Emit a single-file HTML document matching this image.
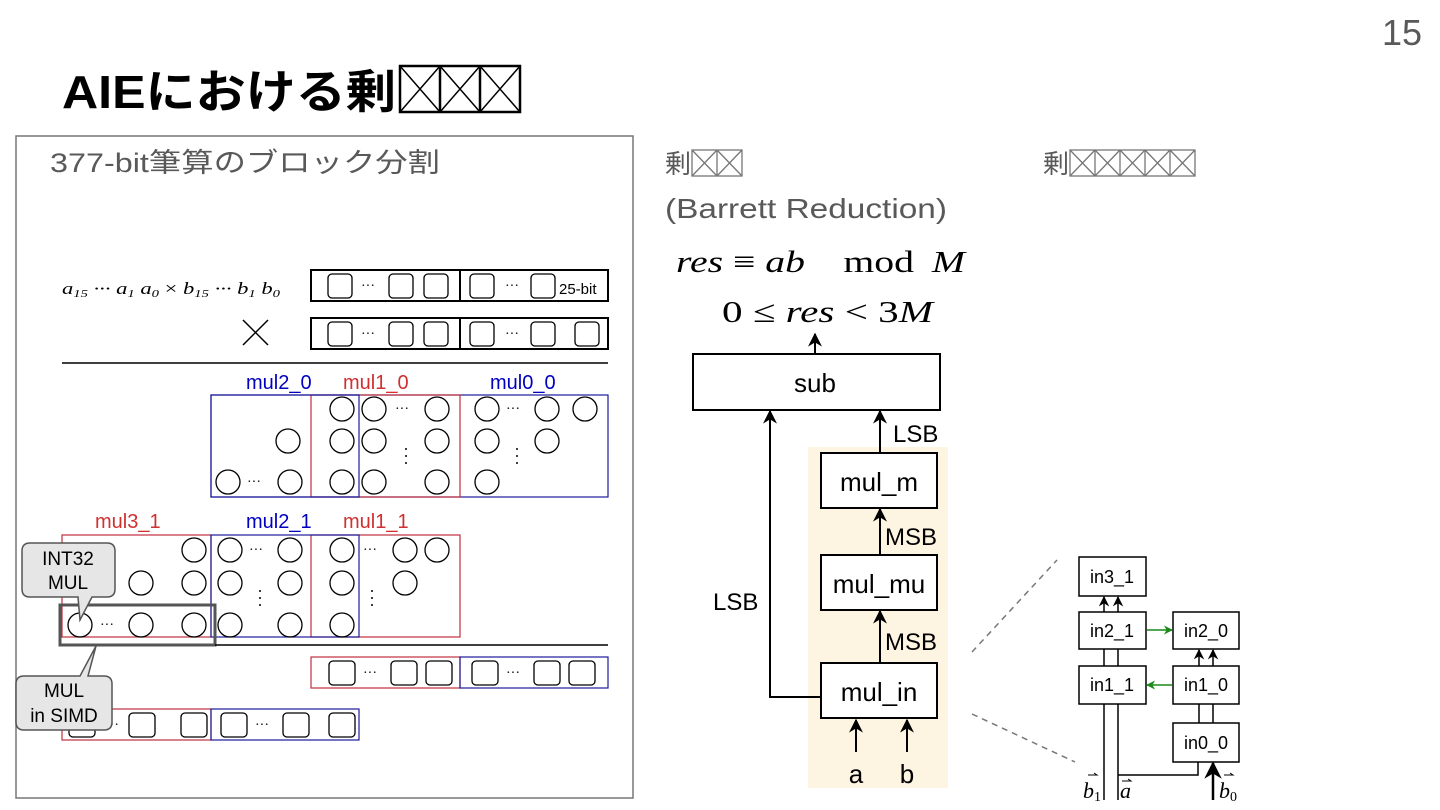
<!DOCTYPE html>
<html><head><meta charset="utf-8"><style>
html,body{margin:0;padding:0;background:#fff;}
svg{display:block;}
.jp{font-family:"Liberation Sans","Noto Sans CJK JP",sans-serif;}
.m{font-family:"Liberation Serif",serif;font-style:italic;}
.r{font-family:"Liberation Serif",serif;}
</style></head><body>
<svg width="1440" height="810" viewBox="0 0 1440 810" xmlns="http://www.w3.org/2000/svg">
<defs>
<marker id="ah" viewBox="0 0 10 10" refX="9" refY="5" markerWidth="7" markerHeight="7" orient="auto-start-reverse"><path d="M0,0 L10,5 L0,10 L3,5 z" fill="#000"/></marker>
<marker id="ag" viewBox="0 0 10 10" refX="9" refY="5" markerWidth="6" markerHeight="6" orient="auto"><path d="M0,0 L10,5 L0,10 L3,5 z" fill="#1a8a1a"/></marker>
</defs>
<text x="1382" y="45" font-size="36" fill="#595959" class="jp">15</text>
<text x="62" y="108" font-size="46" font-weight="bold" class="jp" textLength="334" lengthAdjust="spacingAndGlyphs">AIEにおける剰</text>
<g stroke="#000" stroke-width="2.5" fill="none">
<rect x="400" y="66" width="120" height="46"/>
<line x1="440" y1="66" x2="440" y2="112"/><line x1="480" y1="66" x2="480" y2="112"/>
<path d="M400,66 L440,112 M440,66 L400,112 M440,66 L480,112 M480,66 L440,112 M480,66 L520,112 M520,66 L480,112" stroke-width="1.5"/>
</g>
<rect x="16" y="136" width="617" height="662" fill="none" stroke="#777" stroke-width="1.5"/>
<text x="50" y="172" font-size="27" fill="#595959" class="jp" textLength="390" lengthAdjust="spacingAndGlyphs">377-bit筆算のブロック分割</text>
<text x="62" y="294" font-size="17" class="m" textLength="218" lengthAdjust="spacingAndGlyphs">a<tspan font-size="11" dy="3">15</tspan><tspan dy="-3"> ··· a</tspan><tspan font-size="11" dy="3">1</tspan><tspan dy="-3"> a</tspan><tspan font-size="11" dy="3">0</tspan><tspan dy="-3" font-style="normal"> × </tspan><tspan dy="0">b</tspan><tspan font-size="11" dy="3">15</tspan><tspan dy="-3"> ··· b</tspan><tspan font-size="11" dy="3">1</tspan><tspan dy="-3"> b</tspan><tspan font-size="11" dy="3">0</tspan></text>
<path d="M243,320 L268,345 M268,320 L243,345" stroke="#000" stroke-width="1.5"/>
<g fill="none" stroke="#000" stroke-width="2">
<rect x="311" y="270" width="297" height="31"/><line x1="460" y1="270" x2="460" y2="301"/>
<rect x="311" y="318" width="297" height="31"/><line x1="460" y1="318" x2="460" y2="349"/>
</g>
<g fill="none" stroke="#000" stroke-width="1.3">
<rect x="328" y="274" width="24" height="24" rx="4"/><rect x="389" y="274" width="24" height="24" rx="4"/><rect x="424" y="274" width="24" height="24" rx="4"/>
<rect x="470" y="274" width="24" height="24" rx="4"/><rect x="531" y="274" width="24" height="24" rx="4"/>
<rect x="328" y="322" width="24" height="24" rx="4"/><rect x="389" y="322" width="24" height="24" rx="4"/><rect x="424" y="322" width="24" height="24" rx="4"/>
<rect x="470" y="322" width="24" height="24" rx="4"/><rect x="531" y="322" width="24" height="24" rx="4"/><rect x="575" y="322" width="24" height="24" rx="4"/>
</g>
<text x="559" y="294" font-size="15" class="jp">25-bit</text>
<g font-size="14" class="r"><text x="361" y="290">···</text><text x="505" y="290">···</text><text x="361" y="338">···</text><text x="505" y="338">···</text></g>
<line x1="62" y1="363" x2="608" y2="363" stroke="#000" stroke-width="1.5"/>
<g font-size="20" class="jp"><text x="246" y="389" fill="#0000c0">mul2_0</text><text x="343" y="389" fill="#d03030">mul1_0</text><text x="490" y="389" fill="#0000c0">mul0_0</text></g>
<rect x="211" y="395" width="397" height="102" fill="none" stroke="#1a1a9a" stroke-width="1.2"/>
<rect x="311" y="395" width="149" height="102" fill="none" stroke="#c03040" stroke-width="1.2"/>
<rect x="211" y="395" width="148" height="102" fill="none" stroke="#1a1a9a" stroke-width="1.2"/>
<g fill="none" stroke="#000" stroke-width="1.3">
<circle cx="342" cy="409" r="12"/><circle cx="374" cy="409" r="12"/><circle cx="437" cy="409" r="12"/><circle cx="487" cy="409" r="12"/><circle cx="547" cy="409" r="12"/><circle cx="585" cy="409" r="12"/>
<circle cx="288" cy="441" r="12"/><circle cx="342" cy="441" r="12"/><circle cx="374" cy="441" r="12"/><circle cx="437" cy="441" r="12"/><circle cx="487" cy="441" r="12"/><circle cx="547" cy="441" r="12"/>
<circle cx="228" cy="482" r="12"/><circle cx="290" cy="482" r="12"/><circle cx="342" cy="482" r="12"/><circle cx="374" cy="482" r="12"/><circle cx="437" cy="482" r="12"/><circle cx="487" cy="482" r="12"/>
</g>
<g font-size="14" class="r"><text x="395" y="413">···</text><text x="506" y="413">···</text><text x="247" y="486">···</text></g>
<g fill="#000"><circle cx="406" cy="449" r="1"/><circle cx="406" cy="456" r="1"/><circle cx="406" cy="463" r="1"/><circle cx="517" cy="449" r="1"/><circle cx="517" cy="456" r="1"/><circle cx="517" cy="463" r="1"/></g>
<g font-size="20" class="jp"><text x="95" y="528" fill="#d03030">mul3_1</text><text x="246" y="528" fill="#0000c0">mul2_1</text><text x="343" y="528" fill="#d03030">mul1_1</text></g>
<rect x="62" y="535" width="149" height="102" fill="none" stroke="#c03040" stroke-width="1.2"/>
<rect x="311" y="535" width="149" height="102" fill="none" stroke="#c03040" stroke-width="1.2"/>
<rect x="211" y="535" width="148" height="102" fill="none" stroke="#1a1a9a" stroke-width="1.2"/>
<g fill="none" stroke="#000" stroke-width="1.3">
<circle cx="194" cy="550" r="12"/><circle cx="230" cy="550" r="12"/><circle cx="290" cy="550" r="12"/><circle cx="342" cy="550" r="12"/><circle cx="405" cy="550" r="12"/><circle cx="437" cy="550" r="12"/>
<circle cx="141" cy="583" r="12"/><circle cx="194" cy="583" r="12"/><circle cx="230" cy="583" r="12"/><circle cx="290" cy="583" r="12"/><circle cx="342" cy="583" r="12"/><circle cx="405" cy="583" r="12"/>
<circle cx="80" cy="625" r="12"/><circle cx="141" cy="625" r="12"/><circle cx="194" cy="625" r="12"/><circle cx="230" cy="625" r="12"/><circle cx="290" cy="625" r="12"/><circle cx="342" cy="625" r="12"/>
</g>
<g font-size="14" class="r"><text x="249" y="554">···</text><text x="363" y="554">···</text><text x="100" y="629">···</text></g>
<g fill="#000"><circle cx="260" cy="591" r="1"/><circle cx="260" cy="598" r="1"/><circle cx="260" cy="605" r="1"/><circle cx="372" cy="591" r="1"/><circle cx="372" cy="598" r="1"/><circle cx="372" cy="605" r="1"/></g>
<rect x="60" y="605" width="155" height="40" fill="none" stroke="#555" stroke-width="3"/>
<line x1="215" y1="645" x2="608" y2="645" stroke="#000" stroke-width="1.5"/>
<rect x="311" y="657" width="149" height="31" fill="none" stroke="#c03040" stroke-width="1.2"/>
<rect x="460" y="657" width="148" height="31" fill="none" stroke="#1a1a9a" stroke-width="1.2"/>
<rect x="62" y="709" width="149" height="31" fill="none" stroke="#c03040" stroke-width="1.2"/>
<rect x="211" y="709" width="148" height="31" fill="none" stroke="#1a1a9a" stroke-width="1.2"/>
<g fill="none" stroke="#000" stroke-width="1.3">
<rect x="329" y="661" width="26" height="24" rx="4"/><rect x="391" y="661" width="26" height="24" rx="4"/><rect x="426" y="661" width="26" height="24" rx="4"/>
<rect x="472" y="661" width="26" height="24" rx="4"/><rect x="534" y="661" width="26" height="24" rx="4"/><rect x="569" y="661" width="26" height="24" rx="4"/>
<rect x="69" y="713" width="26" height="24" rx="4"/><rect x="129" y="713" width="26" height="24" rx="4"/><rect x="181" y="713" width="26" height="24" rx="4"/>
<rect x="221" y="713" width="26" height="24" rx="4"/><rect x="283" y="713" width="26" height="24" rx="4"/><rect x="329" y="713" width="26" height="24" rx="4"/>
</g>
<g font-size="14" class="r"><text x="363" y="677">···</text><text x="506" y="677">···</text><text x="255" y="729">···</text><text x="105" y="729">···</text></g>
<path d="M30,543 H107 Q115,543 115,551 V589 Q115,597 107,597 H92 L80,620 L78,597 H30 Q22,597 22,589 V551 Q22,543 30,543 Z" fill="#e6e6e6" stroke="#555" stroke-width="1.5"/>
<text x="68" y="565" font-size="19" text-anchor="middle" class="jp">INT32</text>
<text x="68" y="589" font-size="19" text-anchor="middle" class="jp">MUL</text>
<path d="M24,676 H80 L96,646 L88,676 H104 Q112,676 112,684 V722 Q112,730 104,730 H24 Q16,730 16,722 V684 Q16,676 24,676 Z" fill="#e6e6e6" stroke="#555" stroke-width="1.5"/>
<text x="64" y="697" font-size="19" text-anchor="middle" class="jp">MUL</text>
<text x="64" y="722" font-size="19" text-anchor="middle" class="jp">in SIMD</text>
<text x="665" y="173" font-size="26" fill="#595959" class="jp">剰</text>
<g stroke="#777" stroke-width="1.3" fill="none">
<rect x="692" y="150" width="50" height="26"/><line x1="717" y1="150" x2="717" y2="176"/>
<path d="M692,150 L717,176 M717,150 L692,176 M717,150 L742,176 M742,150 L717,176"/>
</g>
<text x="665" y="218" font-size="28" fill="#595959" class="jp" textLength="282" lengthAdjust="spacingAndGlyphs">(Barrett Reduction)</text>
<text x="1043" y="173" font-size="26" fill="#595959" class="jp">剰</text>
<g stroke="#777" stroke-width="1.3" fill="none">
<rect x="1070" y="150" width="125" height="26"/>
<line x1="1095" y1="150" x2="1095" y2="176"/><line x1="1120" y1="150" x2="1120" y2="176"/><line x1="1145" y1="150" x2="1145" y2="176"/><line x1="1170" y1="150" x2="1170" y2="176"/>
<path d="M1070,150 L1095,176 M1095,150 L1070,176 M1095,150 L1120,176 M1120,150 L1095,176 M1120,150 L1145,176 M1145,150 L1120,176 M1145,150 L1170,176 M1170,150 L1145,176 M1170,150 L1195,176 M1195,150 L1170,176"/>
</g>
<text x="676" y="272" font-size="31" class="m" textLength="289" lengthAdjust="spacingAndGlyphs">res <tspan font-style="normal">≡</tspan> ab<tspan font-style="normal" dx="30">mod</tspan><tspan dx="14">M</tspan></text>
<text x="722" y="322" font-size="31" class="m" textLength="211" lengthAdjust="spacingAndGlyphs"><tspan font-style="normal">0 ≤</tspan> res <tspan font-style="normal">&lt; 3</tspan>M</text>
<rect x="808" y="447" width="140" height="341" fill="#fdf5e2"/>
<g fill="#fff" stroke="#000" stroke-width="2">
<rect x="693" y="354" width="247" height="56"/>
<rect x="821" y="453" width="116" height="55"/>
<rect x="821" y="555" width="116" height="55"/>
<rect x="821" y="663" width="116" height="55"/>
</g>
<g font-size="26" text-anchor="middle" class="jp">
<text x="815" y="392">sub</text><text x="879" y="491">mul_m</text><text x="879" y="593">mul_mu</text><text x="879" y="701">mul_in</text>
<text x="856" y="783">a</text><text x="907" y="783">b</text>
</g>
<g font-size="24" class="jp"><text x="893" y="442">LSB</text><text x="885" y="545">MSB</text><text x="885" y="650">MSB</text><text x="713" y="610">LSB</text></g>
<g stroke="#000" stroke-width="2" fill="none" marker-end="url(#ah)">
<line x1="815" y1="353" x2="815" y2="334"/>
<line x1="880" y1="453" x2="880" y2="411"/>
<line x1="880" y1="555" x2="880" y2="509"/>
<line x1="880" y1="663" x2="880" y2="611"/>
<polyline points="821,697 770,697 770,411"/>
<line x1="856" y1="752" x2="856" y2="720"/>
<line x1="907" y1="752" x2="907" y2="720"/>
</g>
<g stroke="#777" stroke-width="1.5" stroke-dasharray="6,5"><line x1="972" y1="652" x2="1057" y2="560"/><line x1="972" y1="714" x2="1075" y2="762"/></g>
<g fill="#fff" stroke="#000" stroke-width="1.5">
<rect x="1079" y="557" width="67" height="39"/>
<rect x="1079" y="612" width="67" height="37"/>
<rect x="1173" y="612" width="66" height="37"/>
<rect x="1079" y="666" width="67" height="38"/>
<rect x="1173" y="666" width="66" height="38"/>
<rect x="1173" y="723" width="66" height="39"/>
</g>
<g font-size="18" text-anchor="middle" class="jp">
<text x="1112" y="583">in3_1</text><text x="1112" y="637">in2_1</text><text x="1206" y="637">in2_0</text>
<text x="1112" y="691">in1_1</text><text x="1206" y="691">in1_0</text><text x="1206" y="749">in0_0</text>
</g>
<g stroke="#000" stroke-width="1.5" fill="none">
<line x1="1104" y1="649" x2="1104" y2="666"/><line x1="1118" y1="649" x2="1118" y2="666"/>
<line x1="1199" y1="704" x2="1199" y2="723"/><line x1="1213" y1="704" x2="1213" y2="723"/>
<line x1="1104" y1="704" x2="1104" y2="800"/><line x1="1118" y1="704" x2="1118" y2="800"/>
<polyline points="1118,775 1198,775 1198,762"/>
</g>
<g stroke="#000" stroke-width="1.5" marker-end="url(#ah)">
<line x1="1104" y1="612" x2="1104" y2="597"/><line x1="1118" y1="612" x2="1118" y2="597"/>
<line x1="1199" y1="666" x2="1199" y2="650"/><line x1="1213" y1="666" x2="1213" y2="650"/>
<line x1="1213" y1="800" x2="1213" y2="763" stroke-width="2.5"/>
</g>
<g stroke="#1a8a1a" stroke-width="1.5" marker-end="url(#ag)">
<line x1="1147" y1="630" x2="1172" y2="630"/><line x1="1172" y1="685" x2="1147" y2="685"/>
</g>
<g font-size="22" class="m">
<text x="1083" y="798">b<tspan font-size="14" dy="3" font-style="normal">1</tspan></text>
<text x="1120" y="798">a</text>
<text x="1219" y="798">b<tspan font-size="14" dy="3" font-style="normal">0</tspan></text>
</g>
<g stroke="#000" stroke-width="1" fill="none"><path d="M1088,775 h9 l-3,-2"/><path d="M1122,781 h9 l-3,-2"/><path d="M1224,775 h9 l-3,-2"/></g>
</svg>
</body></html>
